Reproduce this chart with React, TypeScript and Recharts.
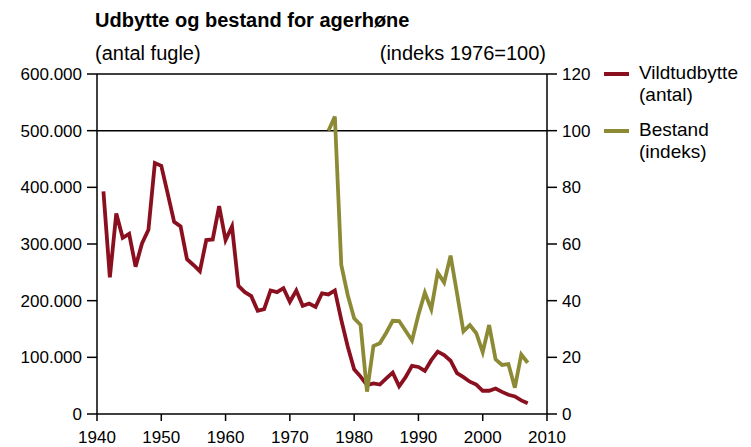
import React from "react";
import { LineChart, Line, XAxis, YAxis, ReferenceLine } from "recharts";

const years = [
  1941, 1942, 1943, 1944, 1945, 1946, 1947, 1948, 1949, 1950,
  1951, 1952, 1953, 1954, 1955, 1956, 1957, 1958, 1959, 1960,
  1961, 1962, 1963, 1964, 1965, 1966, 1967, 1968, 1969, 1970,
  1971, 1972, 1973, 1974, 1975, 1976, 1977, 1978, 1979, 1980,
  1981, 1982, 1983, 1984, 1985, 1986, 1987, 1988, 1989, 1990,
  1991, 1992, 1993, 1994, 1995, 1996, 1997, 1998, 1999, 2000,
  2001, 2002, 2003, 2004, 2005, 2006, 2007,
];

// Vildtudbytte (antal fugle), 1941-2007
const udbytte = [
  393000, 241000, 354000, 311000, 318000, 260000, 301000, 325000, 443000, 438000,
  389000, 339000, 331000, 273000, 263000, 252000, 307000, 308000, 367000, 307000,
  331000, 226000, 215000, 208000, 182000, 185000, 218000, 215000, 222000, 198000,
  218000, 191000, 195000, 189000, 213000, 211000, 218000, 166000, 119000, 79000,
  66000, 51000, 54000, 52000, 63000, 73000, 49000, 65000, 85000, 83000,
  76000, 95000, 110000, 104000, 94000, 72000, 65000, 57000, 52000, 41000,
  41000, 45000, 39000, 34000, 31000, 24000, 19000,
];

// Bestand (indeks 1976=100), 1976-2007
const bestandStart = 1976;
const bestand = [
  100, 105, 52.6, 42, 33.8, 31.4, 7.9, 24, 25, 28.7,
  32.9, 32.8, 29.4, 25.9, 35, 42.8, 37, 49.9, 46.4, 55.9,
  42.6, 29.2, 31.4, 28.5, 21.8, 31.4, 19.3, 17.3, 17.6, 9.3,
  21, 18.1,
];

const xTicks = [1940, 1950, 1960, 1970, 1980, 1990, 2000, 2010];
const leftTicks = [0, 100000, 200000, 300000, 400000, 500000, 600000];
const rightTicks = [0, 20, 40, 60, 80, 100, 120];

const data = years.map((year, i) => {
  const j = year - bestandStart;
  return {
    year,
    udbytte: udbytte[i],
    bestand: j >= 0 && j < bestand.length ? bestand[j] : null,
  };
});

const RED = "#8a1020";
const OLIVE = "#8d8a36";
const FONT = "'Liberation Sans', Arial, Helvetica, sans-serif";

const fmtThousands = (v: number) =>
  v === 0 ? "0" : v.toLocaleString("en-US").replace(/,/g, ".");

const axisLine = { stroke: "#000", strokeWidth: 1.5 };
const tickStyle = { fill: "#000", fontSize: 17, fontFamily: FONT };

export default function App() {
  return (
    <div style={{ position: "absolute", left: 0, top: 0, width: 751, height: 447, background: "#fff", fontFamily: FONT }}>
      <div style={{ position: "absolute", left: 95, top: 9, fontSize: 20, fontWeight: "bold", color: "#000", whiteSpace: "nowrap" }}>
        Udbytte og bestand for agerhøne
      </div>
      <div style={{ position: "absolute", left: 95, top: 42, fontSize: 20, color: "#000", whiteSpace: "nowrap" }}>
        (antal fugle)
      </div>
      <div style={{ position: "absolute", right: 751 - 546, top: 42, fontSize: 20, color: "#000", whiteSpace: "nowrap" }}>
        (indeks 1976=100)
      </div>

      <div style={{ position: "absolute", left: 0, top: 0 }}>
        <LineChart width={751} height={447} data={data} margin={{ top: 74, left: 7, right: 144, bottom: 3 }}>
          <XAxis
            dataKey="year"
            type="number"
            domain={[1940, 2010]}
            ticks={xTicks}
            axisLine={axisLine}
            tickLine={axisLine}
            tickSize={7}
            tickMargin={10}
            tick={tickStyle}
            height={30}
          />
          <YAxis
            yAxisId="left"
            domain={[0, 600000]}
            ticks={leftTicks}
            tickFormatter={fmtThousands}
            axisLine={axisLine}
            tickLine={axisLine}
            tickSize={10}
            tickMargin={5}
            tick={tickStyle}
            width={90}
          />
          <YAxis
            yAxisId="right"
            orientation="right"
            domain={[0, 120]}
            ticks={rightTicks}
            axisLine={axisLine}
            tickLine={axisLine}
            tickSize={10}
            tickMargin={5}
            tick={tickStyle}
            width={60}
          />
          <ReferenceLine yAxisId="left" y={600000} stroke="#000" strokeWidth={1.5} ifOverflow="visible" />
          <ReferenceLine yAxisId="left" y={500000} stroke="#000" strokeWidth={1.5} />
          <Line
            yAxisId="left"
            dataKey="udbytte"
            stroke={RED}
            strokeWidth={3.8}
            dot={false}
            type="linear"
            isAnimationActive={false}
          />
          <Line
            yAxisId="right"
            dataKey="bestand"
            stroke={OLIVE}
            strokeWidth={3.8}
            dot={false}
            type="linear"
            connectNulls={false}
            isAnimationActive={false}
          />
        </LineChart>
      </div>

      <div style={{ position: "absolute", left: 604, top: 72, width: 25, height: 4, background: RED }} />
      <div style={{ position: "absolute", left: 639, top: 62, fontSize: 19, lineHeight: "22px", color: "#000" }}>
        Vildtudbytte<br />(antal)
      </div>
      <div style={{ position: "absolute", left: 604, top: 129, width: 25, height: 4, background: OLIVE }} />
      <div style={{ position: "absolute", left: 639, top: 119, fontSize: 19, lineHeight: "22px", color: "#000" }}>
        Bestand<br />(indeks)
      </div>
    </div>
  );
}
